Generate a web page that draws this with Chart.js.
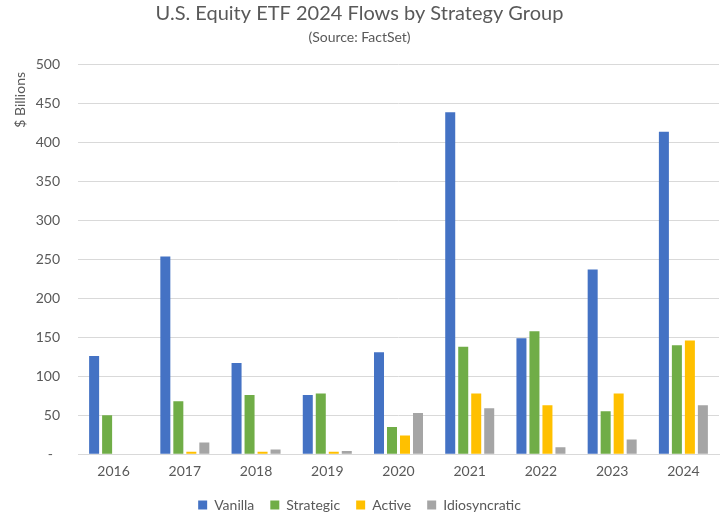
<!DOCTYPE html>
<html>
<head>
<meta charset="utf-8">
<script src="https://cdn.jsdelivr.net/npm/chart.js@4/dist/chart.umd.min.js"></script>
<style>
html,body{margin:0;padding:0;background:#fff;}
#wrap{width:724px;height:516px;}
</style>
</head>
<body>
<div id="wrap"><canvas id="c" width="724" height="516"></canvas></div>
<script>
const years = ['2016','2017','2018','2019','2020','2021','2022','2023','2024'];
const vanilla = [126, 254, 117, 76, 131, 439, 149, 237, 414];
const strategic = [50, 68, 76, 78, 35, 138, 158, 55, 140];
const active = [0, 3, 3, 3, 24, 78, 63, 78, 146];
const idiosyncratic = [0, 15, 6, 4, 53, 59, 9, 19, 63];

const FONT = 'Lato, "Open Sans", sans-serif';
const GREY = '#595959';

const legendShift = {
  id: 'legendShift',
  afterLayout(chart) {
    const lg = chart.legend;
    if (lg) { lg.top -= 7; lg.bottom -= 7; }
  }
};

new Chart(document.getElementById('c'), {
  type: 'bar',
  data: {
    labels: years,
    datasets: [
      {label: 'Vanilla', data: vanilla, backgroundColor: '#4472C4'},
      {label: 'Strategic', data: strategic, backgroundColor: '#70AD47'},
      {label: 'Active', data: active, backgroundColor: '#FFC000'},
      {label: 'Idiosyncratic', data: idiosyncratic, backgroundColor: '#A5A5A5'}
    ]
  },
  plugins: [legendShift],
  options: {
    responsive: false,
    animation: false,
    layout: {padding: {left: 0, right: 5, top: 2, bottom: -13}},
    datasets: {bar: {categoryPercentage: 0.73, barPercentage: 0.77}},
    plugins: {
      title: {display: true, text: 'U.S. Equity ETF 2024 Flows by Strategy Group', color: GREY,
        font: {family: FONT, size: 20, weight: 'normal'}, padding: {top: 0, bottom: 3}},
      subtitle: {display: true, text: '(Source: FactSet)', color: GREY,
        font: {family: FONT, size: 14, weight: 'normal'}, padding: {bottom: 19}},
      legend: {position: 'bottom', labels: {boxWidth: 9, boxHeight: 9, color: GREY, padding: 16,
        font: {family: FONT, size: 14}}},
      tooltip: {enabled: false}
    },
    scales: {
      x: {
        grid: {display: false, drawTicks: false},
        border: {color: '#d9d9d9'},
        ticks: {color: GREY, font: {family: FONT, size: 14}, padding: 9}
      },
      y: {
        min: 0, max: 500,
        afterFit(scale) { scale.width = 78; },
        ticks: {stepSize: 50, color: GREY, font: {family: FONT, size: 14}, padding: 18,
          callback: v => v === 0 ? '-  ' : v},
        grid: {color: '#d9d9d9', drawTicks: false},
        border: {display: false},
        title: {display: true, text: '$ Billions  ', color: GREY, align: 'end',
          font: {family: FONT, size: 14}, padding: {top: 12, bottom: 0}}
      }
    }
  }
});
</script>
</body>
</html>
